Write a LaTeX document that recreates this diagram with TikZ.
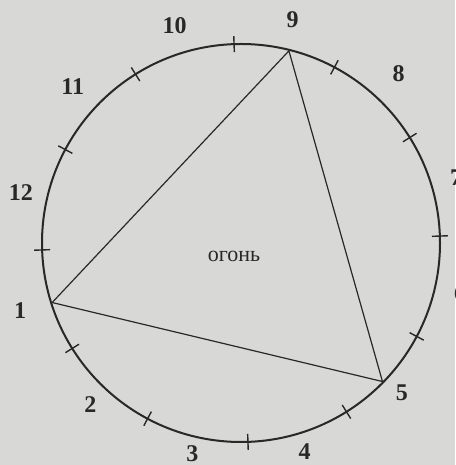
\documentclass[tikz,border=0pt]{standalone}
\usepackage{fontspec}
\setmainfont{Liberation Serif}
\definecolor{paper}{RGB}{216,216,214}
\definecolor{ink}{RGB}{40,40,40}
\begin{document}
\begin{tikzpicture}[x=1pt,y=1pt,
  rim/.style={draw=ink,line width=2pt},
  tickmark/.style={draw=ink,line width=1.4pt},
  chord/.style={draw=ink,line width=1.2pt},
  sign/.style={font=\fontsize{24}{24}\selectfont\bfseries,text=ink,inner sep=0pt},
  word/.style={font=\fontsize{22}{22}\selectfont,text=ink,inner sep=0pt}]
\useasboundingbox (0,0) rectangle (455,465);
\clip (0,0) rectangle (455,465);
\fill[paper] (0,0) rectangle (455,465);
\coordinate (c) at (241,222);
\draw[rim] (c) circle (199);
\foreach \a in {2,32,...,332}
  \draw[tickmark] (c) ++(\a:191) -- ++(\a:16);
\foreach \k/\r in {1/231,2/221,3/216,4/218,5/220,6/225,7/225,8/231,9/229,10/227,11/230,12/226}
  \path (c) ++({197+30*(\k-1)}:\r) node[sign] (s\k) {\k};
\path (c) ++(197.5:198) coordinate (v1);
\path (c) ++(76:198) coordinate (v9);
\path (c) ++(315.6:198) coordinate (v5);
\draw[chord] (v1) -- (v9) -- (v5) -- (v1);
\node[word] (fire) at (234,209) {огонь};
\end{tikzpicture}
\end{document}
